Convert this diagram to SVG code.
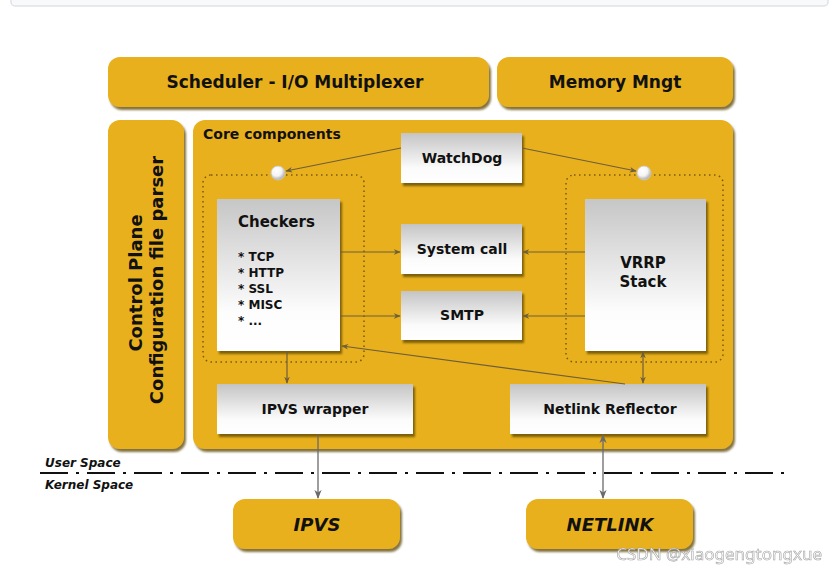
<svg xmlns="http://www.w3.org/2000/svg" width="837" height="573" viewBox="0 0 837 573">
<defs>
<linearGradient id="gray" x1="0" y1="0" x2="0" y2="1">
<stop offset="0" stop-color="#c4c4c4"/>
<stop offset="0.7" stop-color="#fbfbfb"/>
<stop offset="1" stop-color="#ffffff"/>
</linearGradient>
<linearGradient id="grayTall" x1="0" y1="0" x2="0" y2="1">
<stop offset="0" stop-color="#c6c6c6"/>
<stop offset="0.75" stop-color="#fdfdfd"/>
<stop offset="1" stop-color="#ffffff"/>
</linearGradient>
<radialGradient id="ball" cx="0.4" cy="0.35" r="0.6">
<stop offset="0" stop-color="#ffffff"/>
<stop offset="0.6" stop-color="#f4f4f4"/>
<stop offset="1" stop-color="#b8b8b8"/>
</radialGradient>
<filter id="sh" x="-10%" y="-10%" width="130%" height="130%">
<feDropShadow dx="2" dy="3" stdDeviation="1.2" flood-color="#5a4500" flood-opacity="0.75"/>
</filter>
<marker id="ah" viewBox="0 0 10 10" refX="9" refY="5" markerWidth="7" markerHeight="7" orient="auto-start-reverse" markerUnits="userSpaceOnUse">
<path d="M0,1 L10,5 L0,9 L3,5 Z" fill="#6e5e3a"/>
</marker>
<marker id="ahg" viewBox="0 0 10 10" refX="9" refY="5" markerWidth="9" markerHeight="9" orient="auto-start-reverse" markerUnits="userSpaceOnUse">
<path d="M0,1 L10,5 L0,9 L3,5 Z" fill="#6a6a6a"/>
</marker>
</defs>
<style>
.y{fill:#e8b01b;filter:url(#sh)}
.g{fill:url(#gray);filter:url(#sh)}
.gt{fill:url(#grayTall);filter:url(#sh)}
.t{font-family:"DejaVu Sans","Liberation Sans",Arial,sans-serif;font-weight:bold;fill:#111}
.c{text-anchor:middle}
.dot{fill:none;stroke:#7a5a10;stroke-width:1.5;stroke-dasharray:1.5 3.5}
.ln{fill:none;stroke:#6e5e3a;stroke-width:1.2}
.lg{fill:none;stroke:#6a6a6a;stroke-width:1.3}
</style>
<rect width="837" height="573" fill="#ffffff"/>
<rect x="11" y="-10" width="817" height="16" rx="4" fill="#f8f9fa" stroke="#dfe2e5" stroke-width="1.5"/>

<g id="scheduler"><rect class="y" x="108" y="57" width="381" height="50" rx="12"/><text class="t c" x="295" y="88" font-size="17">Scheduler - I/O Multiplexer</text></g>
<g id="memory"><rect class="y" x="497" y="57" width="236" height="50" rx="12"/><text class="t c" x="615" y="88" font-size="17">Memory Mngt</text></g>
<g id="control-plane"><rect class="y" x="108" y="120" width="76" height="329" rx="12"/>
<text class="t c" font-size="18" transform="translate(142,283) rotate(-90)">Control Plane</text>
<text class="t c" font-size="18" transform="translate(163,280) rotate(-90)">Configuration file parser</text></g>
<g id="core"><rect class="y" x="193" y="120" width="540" height="329" rx="12"/><text class="t" x="203" y="139" font-size="14">Core components</text></g>

<g id="dotted-left"><rect class="dot" x="203" y="175" width="161" height="187" rx="8"/></g>
<g id="dotted-right"><rect class="dot" x="566" y="175" width="157" height="187" rx="8"/></g>

<g id="watchdog"><rect class="g" x="401" y="133" width="121" height="50"/><text class="t c" x="462" y="163" font-size="14">WatchDog</text></g>
<g id="checkers"><rect class="gt" x="217" y="199" width="123" height="152"/>
<text class="t" x="238" y="227" font-size="15">Checkers</text>
<text class="t" x="238" y="261" font-size="12">* TCP</text>
<text class="t" x="238" y="277" font-size="12">* HTTP</text>
<text class="t" x="238" y="293" font-size="12">* SSL</text>
<text class="t" x="238" y="309" font-size="12">* MISC</text>
<text class="t" x="238" y="325" font-size="12">* ...</text></g>
<g id="system-call"><rect class="g" x="401" y="224" width="121" height="50"/><text class="t c" x="462" y="254" font-size="14">System call</text></g>
<g id="smtp"><rect class="g" x="401" y="291" width="121" height="49"/><text class="t c" x="462" y="320" font-size="14">SMTP</text></g>
<g id="vrrp"><rect class="gt" x="585" y="199" width="121" height="152"/><text class="t c" x="643" y="268" font-size="15">VRRP</text><text class="t c" x="643" y="287" font-size="15">Stack</text></g>
<g id="ipvs-wrapper"><rect class="g" x="217" y="384" width="196" height="50"/><text class="t c" x="315" y="414" font-size="14">IPVS wrapper</text></g>
<g id="netlink-reflector"><rect class="g" x="510" y="384" width="196" height="50"/><text class="t c" x="610" y="414" font-size="14">Netlink Reflector</text></g>
<g id="ipvs"><rect class="y" x="233" y="499" width="167" height="50" rx="12"/><text class="t c" x="317" y="531" font-size="18" font-style="italic">IPVS</text></g>
<g id="netlink"><rect class="y" x="526" y="499" width="167" height="50" rx="12"/><text class="t c" x="610" y="531" font-size="18" font-style="italic">NETLINK</text></g>

<g id="space-divider">
<line x1="40" y1="473" x2="785" y2="473" stroke="#111" stroke-width="1.8" stroke-dasharray="28 8 3 8"/>
<text class="t" x="45" y="467" font-size="12" font-style="italic">User Space</text>
<text class="t" x="45" y="489" font-size="12" font-style="italic">Kernel Space</text>
</g>

<g id="connectors">
<line class="ln" x1="401" y1="148" x2="286" y2="171" marker-end="url(#ah)"/>
<line class="ln" x1="522" y1="148" x2="636" y2="171" marker-end="url(#ah)"/>
<line class="ln" x1="340" y1="252" x2="400" y2="252" marker-end="url(#ah)"/>
<line class="ln" x1="585" y1="252" x2="523" y2="252" marker-end="url(#ah)"/>
<line class="ln" x1="340" y1="316" x2="400" y2="316" marker-end="url(#ah)"/>
<line class="ln" x1="585" y1="316" x2="523" y2="316" marker-end="url(#ah)"/>
<line class="ln" x1="625" y1="384" x2="342" y2="346" marker-end="url(#ah)"/>
<line class="ln" x1="643" y1="352" x2="643" y2="383" marker-start="url(#ah)" marker-end="url(#ah)"/>
<line class="ln" x1="287" y1="351" x2="287" y2="383" marker-end="url(#ah)"/>
<line class="lg" x1="318" y1="435" x2="318" y2="498" marker-end="url(#ahg)"/>
<line class="lg" x1="603" y1="435" x2="603" y2="498" marker-start="url(#ahg)" marker-end="url(#ahg)"/>
<circle cx="278" cy="173" r="7" fill="url(#ball)" stroke="#c9c9c9" stroke-width="0.8"/>
<circle cx="644" cy="173" r="7" fill="url(#ball)" stroke="#c9c9c9" stroke-width="0.8"/>
</g>

<text x="822" y="560" text-anchor="end" font-family="'Noto Sans','DejaVu Sans',sans-serif" font-size="17" fill="#ffffff" stroke="#999" stroke-width="0.6" opacity="0.9">CSDN @xiaogengtongxue</text>
</svg>
